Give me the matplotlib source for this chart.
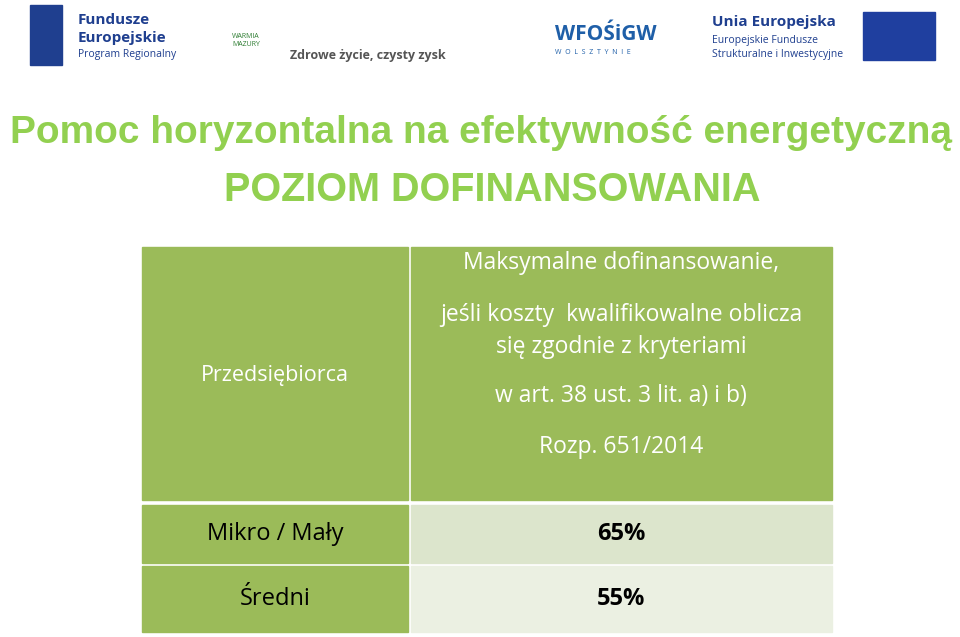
import matplotlib
matplotlib.use("Agg")
import matplotlib.pyplot as plt
from matplotlib.patches import Rectangle

title = "Pomoc horyzontalna na efektywność energetyczną"
subtitle = "POZIOM DOFINANSOWANIA"
col_header = "Przedsiębiorca"
header_lines = ["Maksymalne dofinansowanie,", "jeśli koszty  kwalifikowalne oblicza",
                "się zgodnie z kryteriami", "w art. 38 ust. 3 lit. a) i b)", "Rozp. 651/2014"]
categories = ["Mikro / Mały", "Średni"]
values = ["65%", "55%"]

GREEN = "#9BBB59"
TG = "#92D050"
FONT = "Open Sans"

fig = plt.figure(figsize=(9.6, 6.37), dpi=100)
ax = fig.add_axes([0, 0, 1, 1])
ax.set_xlim(0, 960); ax.set_ylim(637, 0); ax.axis("off")

# logos (approximate)
ax.add_patch(Rectangle((30, 5), 32, 60, color="#1F3F8F"))
ax.text(78, 20, "Fundusze", fontsize=11, fontweight="bold", color="#1F3F8F", va="center", family=FONT)
ax.text(78, 38, "Europejskie", fontsize=11, fontweight="bold", color="#1F3F8F", va="center", family=FONT)
ax.text(78, 55, "Program Regionalny", fontsize=7.5, color="#1F3F8F", va="center", family=FONT)
ax.text(232, 40, "WARMIA\nMAZURY", fontsize=5, color="#2E7D32", va="center", family=FONT)
ax.text(290, 56, "Zdrowe życie, czysty zysk", fontsize=9, fontweight="bold", color="#555555", va="center", family=FONT)
ax.text(555, 35, "WFOŚiGW", fontsize=15, fontweight="bold", color="#1F5FA8", va="center", family=FONT)
ax.text(555, 52, "W  O  L  S  Z  T  Y  N  I  E", fontsize=5, color="#1F5FA8", va="center", family=FONT)
ax.text(712, 22, "Unia Europejska", fontsize=11, fontweight="bold", color="#1F3F8F", va="center", family=FONT)
ax.text(712, 41, "Europejskie Fundusze", fontsize=7.5, color="#1F3F8F", va="center", family=FONT)
ax.text(712, 55, "Strukturalne i Inwestycyjne", fontsize=7.5, color="#1F3F8F", va="center", family=FONT)
ax.add_patch(Rectangle((863, 12), 72, 48, color="#1F3F9F"))

ax.text(481, 133, title, fontsize=28, fontweight="bold", color=TG, ha="center", va="center", family="Liberation Sans")
ax.text(492, 190, subtitle, fontsize=28.5, fontweight="bold", color=TG, ha="center", va="center", family="Liberation Sans")

# table
ax.add_patch(Rectangle((142, 247), 266, 253, color=GREEN))
ax.add_patch(Rectangle((411, 247), 421, 253, color=GREEN))
row_y = [(505, 58), (566, 66)]
fills = ["#DCE5CC", "#EBF0E2"]
for (y, h), f in zip(row_y, fills):
    ax.add_patch(Rectangle((142, y), 266, h, color=GREEN))
    ax.add_patch(Rectangle((411, y), 421, h, color=f))

ax.text(275, 375, col_header, fontsize=15.5, color="white", ha="center", va="center", family=FONT)
for t, y in zip(header_lines, [263, 315, 347, 396, 447]):
    ax.text(621, y, t, fontsize=16.5, color="white", ha="center", va="center", family=FONT)
for (y, h), c, v in zip(row_y, categories, values):
    ax.text(275, y + h / 2, c, fontsize=17, color="black", ha="center", va="center", family=FONT)
    ax.text(621, y + h / 2, v, fontsize=17, fontweight="bold", color="black", ha="center", va="center", family=FONT)

fig.savefig("out.png", dpi=100)
